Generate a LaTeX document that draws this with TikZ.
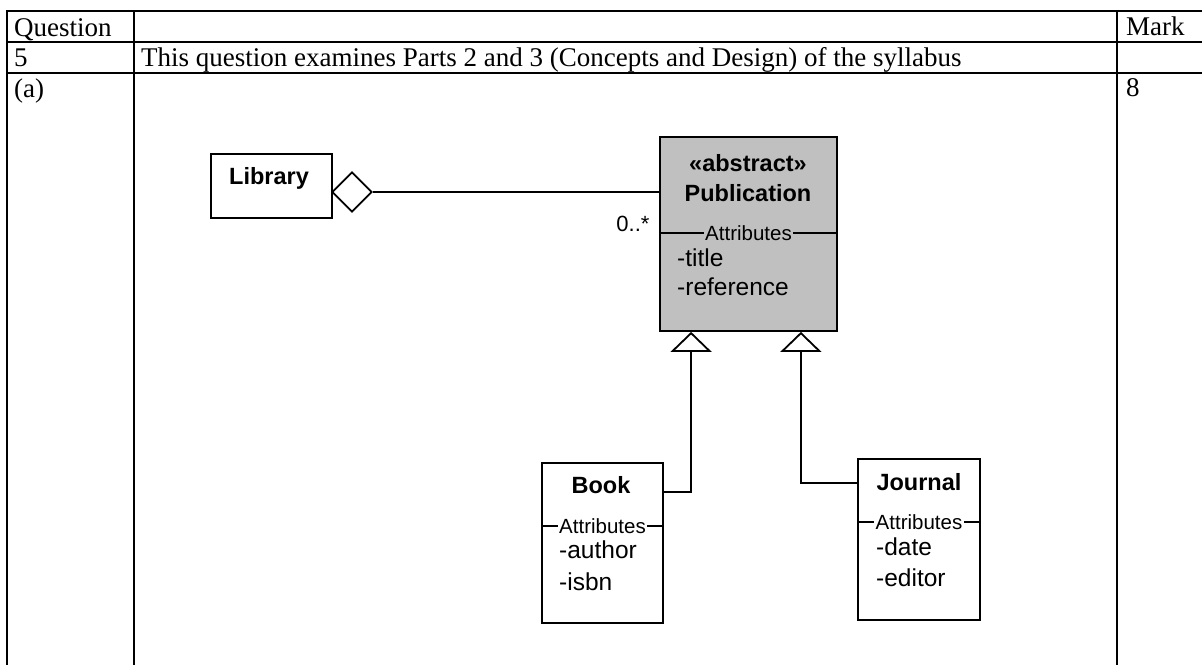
\documentclass[tikz,border=0pt]{standalone}
\usepackage{fontspec}
\setmainfont{Liberation Serif}
\newfontfamily\umlfont{Liberation Sans}
\usetikzlibrary{arrows.meta,shapes.geometric}
\definecolor{pubgray}{RGB}{192,192,192}
\begin{document}
\begin{tikzpicture}[x=1pt,y=-1pt,
  grid/.style={line width=2pt, line cap=rect},
  cell/.style={anchor=base west, inner sep=0pt, font=\fontsize{27}{30}\selectfont},
  umlbox/.style={draw, line width=1.8pt, inner sep=0pt},
  cname/.style={inner sep=0pt, font=\umlfont\bfseries\fontsize{23.5}{26}\selectfont},
  attr/.style={anchor=west, inner sep=0pt, font=\umlfont\fontsize{24.5}{27}\selectfont},
  sect/.style={inner sep=1.5pt, fill=white, font=\umlfont\fontsize{20.5}{23}\selectfont},
  link/.style={line width=1.8pt},
  gen/.style={link, -{Triangle[open, length=20pt, width=41pt]}}
]
\useasboundingbox (0,0) rectangle (1202,664);
% table
\draw[grid] (7,11) -- (1202,11);
\draw[grid] (7,42) -- (1202,42);
\draw[grid] (7,73) -- (1202,73);
\draw[grid] (7,11) -- (7,664);
\draw[grid] (134,11) -- (134,664);
\draw[grid] (1117,11) -- (1117,664);
\node[cell] (q) at (14,36) {Question};
\node[cell] (n5) at (14,66) {5};
\node[cell] (pa) at (14,97) {(a)};
\node[cell] (desc) at (141,66) {This question examines Parts 2 and 3 (Concepts and Design) of the syllabus};
\node[cell] (mk) at (1126,35) {Mark};
\node[cell] (m8) at (1126,96) {8};
% Library
\node[umlbox, minimum width=121pt, minimum height=64pt] (lib) at (271.5,186) {};
\node[cname] (libt) at (269,178) {Library};
% Publication
\node[umlbox, fill=pubgray, minimum width=177pt, minimum height=194pt] (pub) at (748.5,234) {};
\node[cname] (abs) at (748,163) {«abstract»};
\node[cname] (pubt) at (748,193) {Publication};
\draw[link] ([yshift=-97pt]pub.north west) -- ([yshift=-97pt]pub.north east);
\node[sect, fill=pubgray] (pubat) at ([yshift=-97pt]pub.north) {Attributes};
\node[attr] (ptitle) at (677,258) {-title};
\node[attr] (pref) at (677,287) {-reference};
% aggregation
\node[draw, diamond, line width=1.8pt, minimum size=40pt, inner sep=0pt, fill=white] (agg) at (352,192) {};
\draw[link] (agg.east) -- (agg.east -| pub.west);
\node[inner sep=0pt, font=\umlfont\fontsize{22}{24}\selectfont] (mult) at (633,224) {0..*};
% Book
\node[umlbox, minimum width=121pt, minimum height=160pt] (book) at (602.5,543) {};
\node[cname] (bookt) at (601,485) {Book};
\draw[link] ([yshift=-64pt]book.north west) -- ([yshift=-64pt]book.north east);
\node[sect] (bookat) at ([yshift=-64pt]book.north) {Attributes};
\node[attr] (bauth) at (559,550) {-author};
\node[attr] (bisbn) at (559,582) {-isbn};
% Journal
\node[umlbox, minimum width=122pt, minimum height=161pt] (jour) at (919,539.5) {};
\node[cname] (jourt) at (919,482) {Journal};
\draw[link] ([yshift=-64pt]jour.north west) -- ([yshift=-64pt]jour.north east);
\node[sect] (jourat) at ([yshift=-64pt]jour.north) {Attributes};
\node[attr] (jdate) at (876,547) {-date};
\node[attr] (jed) at (876,578) {-editor};
% generalizations
\draw[gen] ([yshift=-30pt]book.north east) -| ([xshift=32pt]pub.south west);
\draw[gen] ([yshift=-25pt]jour.north west) -| ([xshift=-37pt]pub.south east);
\end{tikzpicture}
\end{document}
